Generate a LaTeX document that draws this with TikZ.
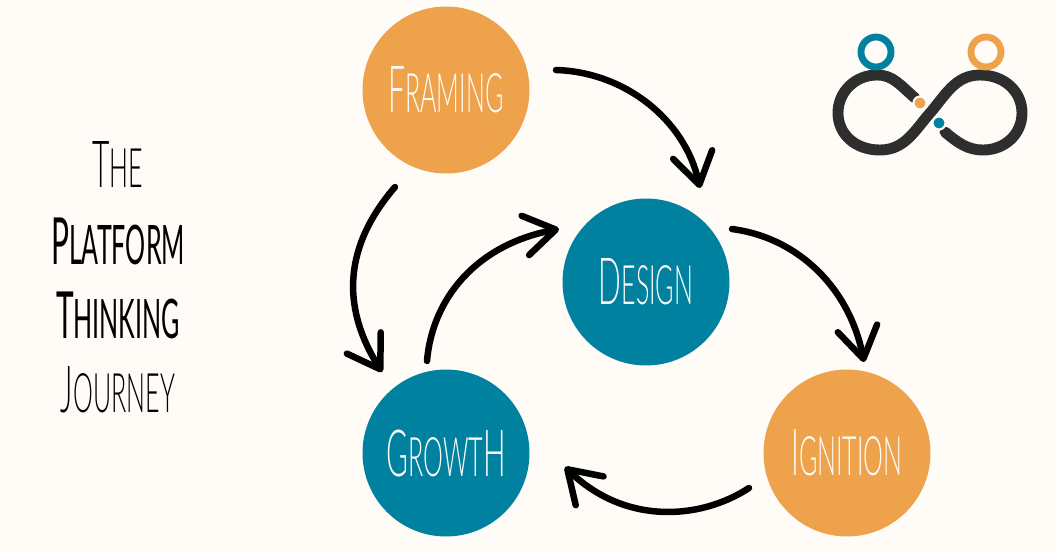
\documentclass[tikz,border=0pt]{standalone}
\usepackage{fontspec}
\setmainfont[FakeStretch=0.46]{Lato}
\newfontfamily\lightfont[FakeStretch=0.46]{Lato Light}
\usetikzlibrary{arrows.meta}
\definecolor{bgcream}{HTML}{FFFCF7}
\definecolor{stageteal}{HTML}{00819F}
\definecolor{stageorange}{HTML}{EDA24B}
\definecolor{logodark}{HTML}{2E2E2E}
\newcommand{\bigc}[1]{{\fontsize{37}{37}\selectfont #1}}
\newcommand{\capword}[2]{\bigc{#1}\MakeUppercase{#2}}
\tikzset{
	stage/.style={circle,minimum size=3.34cm,inner sep=0pt,text=bgcream,font=\fontsize{31}{31}\selectfont\lightfont},
	flow/.style={line width=3.7pt,line cap=round,-{Straight Barb[length=.62cm,width=.8cm,round]}},
	titleline/.style={font=\fontsize{31}{31}\selectfont,text=black,inner sep=0pt},
	ring/.style={line width=3.9pt,draw}
}
\begin{document}
\begin{tikzpicture}[x=0.02cm,y=-0.02cm]
	\fill[bgcream] (0,0) rectangle (1056,552);
	\useasboundingbox (0,0) rectangle (1056,552);
	% title
	\node[titleline] (title1) at (118,164) {\lightfont\bigc{T}HE};
	\node[titleline] (title2) at (118,241) {\bigc{P}LATFORM};
	\node[titleline] (title3) at (118,315) {\bigc{T}HINKING};
	\node[titleline] (title4) at (118,390) {\lightfont\bigc{J}OURNEY};
	% stages
	\node[stage,fill=stageorange] (framing) at (446,90) {\capword{F}{raming}};
	\node[stage,fill=stageteal] (design) at (646,282) {\capword{D}{esign}};
	\node[stage,fill=stageorange] (ignition) at (847,453) {\capword{I}{gnition}};
	\node[stage,fill=stageteal] (growth) at (446,453) {\capword{G}{rowt}\bigc{H}};
	% arrows
	\draw[flow] ([shift={(110,-20)}]framing.center) .. controls (625,72) and (685,120) .. ([shift={(54,-94)}]design.center);
	\draw[flow] ([shift={(86,-53)}]design.center) .. controls (800,238) and (850,290) .. ([shift={(17,-91)}]ignition.center);
	\draw[flow] ([shift={(-98,35)}]ignition.center) .. controls (700,520) and (625,525) .. ([shift={(119,14)}]growth.center);
	\draw[flow] ([shift={(-51,97)}]framing.center) .. controls (345,245) and (340,305) .. ([shift={(-64,-81)}]growth.center);
	\draw[flow] ([shift={(-19,-92)}]growth.center) .. controls (432,300) and (475,245) .. ([shift={(-87,-53)}]design.center);
	% logo
	\draw[logodark,line width=6.2pt,line cap=round] (915,98) .. controls (900,85) and (893,75) .. (877,75)
		.. controls (855,75) and (838,92) .. (838,113) .. controls (838,134) and (855,150) .. (880,150)
		.. controls (905,150) and (915,130) .. (930,113) .. controls (945,96) and (955,75) .. (980,75)
		.. controls (1005,75) and (1022,92) .. (1022,113) .. controls (1022,134) and (1005,150) .. (983,150)
		.. controls (968,150) and (958,143) .. (945,132);
	\draw[ring,stageteal] (876,52) circle (15);
	\draw[ring,stageorange] (986,52) circle (15);
	\fill[stageorange,draw=bgcream,line width=1.2pt] (920,103) circle (6.5);
	\fill[stageteal,draw=bgcream,line width=1.2pt] (939,123) circle (6.5);
\end{tikzpicture}
\end{document}
